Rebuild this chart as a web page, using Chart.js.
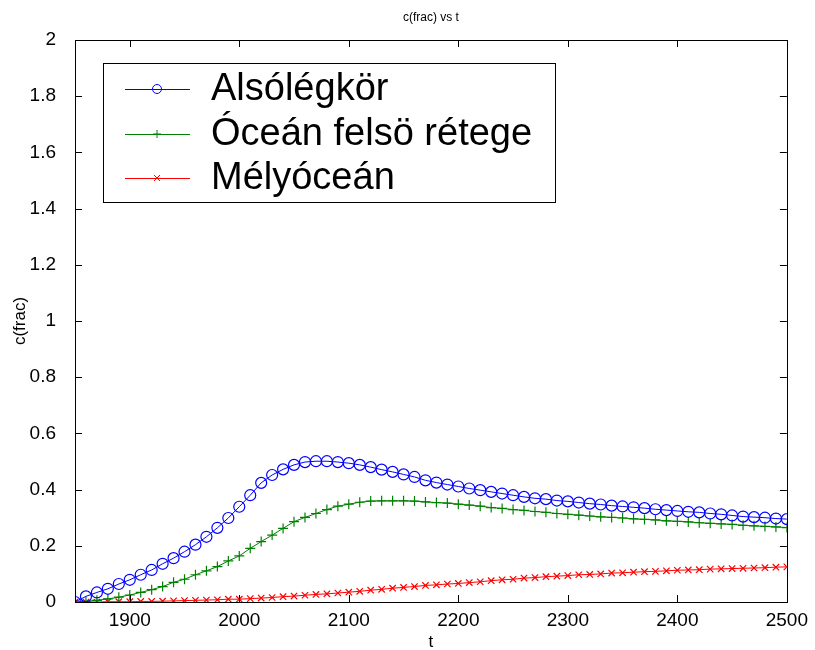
<!DOCTYPE html>
<html>
<head>
<meta charset="utf-8">
<script src="https://cdn.jsdelivr.net/npm/chart.js@4.4.0/dist/chart.umd.min.js"></script>
<style>
  html, body { margin: 0; padding: 0; background: #fff; }
  #wrap { width: 815px; height: 650px; }
</style>
</head>
<body>
<div id="wrap"><canvas id="chart"></canvas></div>
<script>
// years, one sample every 10 years
const years = [];
for (let y = 1850; y <= 2500; y += 10) years.push(y);

const xTicks = [1900, 2000, 2100, 2200, 2300, 2400, 2500];

const atmosphere = [
    0, 0.020, 0.034, 0.047, 0.064, 0.079, 0.097, 0.114, 0.136, 0.156,
    0.179, 0.204, 0.232, 0.264, 0.299, 0.339, 0.380, 0.424, 0.452, 0.472,
    0.488, 0.498, 0.501, 0.501, 0.498, 0.494, 0.488, 0.480, 0.471, 0.463,
    0.454, 0.445, 0.433, 0.425, 0.418, 0.411, 0.404, 0.398, 0.392, 0.386,
    0.380, 0.374, 0.369, 0.366, 0.361, 0.358, 0.354, 0.350, 0.347, 0.343,
    0.340, 0.337, 0.334, 0.330, 0.327, 0.324, 0.321, 0.319, 0.315, 0.312,
    0.308, 0.304, 0.302, 0.300, 0.297, 0.295
];

const upperOcean = [
    0, 0.002, 0.006, 0.011, 0.017, 0.025, 0.034, 0.044, 0.055, 0.070,
    0.081, 0.097, 0.111, 0.126, 0.146, 0.164, 0.191, 0.215, 0.238, 0.262,
    0.286, 0.301, 0.315, 0.329, 0.341, 0.348, 0.355, 0.359, 0.360, 0.360,
    0.360, 0.359, 0.356, 0.354, 0.352, 0.348, 0.345, 0.341, 0.336, 0.333,
    0.329, 0.326, 0.322, 0.319, 0.315, 0.312, 0.309, 0.306, 0.303, 0.301,
    0.299, 0.296, 0.294, 0.292, 0.289, 0.287, 0.285, 0.282, 0.280, 0.278,
    0.276, 0.273, 0.271, 0.269, 0.267, 0.265
];

const deepOcean = [
    0, 0.000, 0.000, 0.001, 0.001, 0.001, 0.002, 0.002, 0.003, 0.004,
    0.005, 0.006, 0.007, 0.008, 0.010, 0.010, 0.012, 0.014, 0.016, 0.019,
    0.021, 0.024, 0.027, 0.029, 0.032, 0.035, 0.038, 0.042, 0.045, 0.049,
    0.052, 0.055, 0.059, 0.061, 0.064, 0.066, 0.069, 0.072, 0.076, 0.079,
    0.081, 0.085, 0.087, 0.090, 0.092, 0.094, 0.097, 0.098, 0.100, 0.103,
    0.104, 0.106, 0.108, 0.109, 0.111, 0.113, 0.114, 0.115, 0.117, 0.118,
    0.119, 0.120, 0.121, 0.122, 0.124, 0.125
];

const FONT = "'Liberation Sans', Arial, Helvetica, sans-serif";

function toXY(ys) {
    return years.map((x, i) => ({x: x, y: ys[i]}));
}

// box with inward ticks, title, axis labels and legend inside the plot
const matlabLook = {
    id: 'matlabLook',
    afterDraw(chart) {
        const ctx = chart.ctx;
        const a = chart.chartArea;
        const xs = chart.scales.x, ys = chart.scales.y;
        ctx.save();
        ctx.strokeStyle = '#000';
        ctx.lineWidth = 1;
        ctx.strokeRect(Math.round(a.left) + 0.5, Math.round(a.top) + 0.5,
            Math.round(a.right - a.left), Math.round(a.bottom - a.top));
        const tl = 7;
        ctx.beginPath();
        xs.ticks.forEach(t => {
            const px = Math.round(xs.getPixelForValue(t.value)) + 0.5;
            ctx.moveTo(px, a.bottom); ctx.lineTo(px, a.bottom - tl);
            ctx.moveTo(px, a.top); ctx.lineTo(px, a.top + tl);
        });
        ys.ticks.forEach(t => {
            const py = Math.round(ys.getPixelForValue(t.value)) + 0.5;
            ctx.moveTo(a.left, py); ctx.lineTo(a.left + tl, py);
            ctx.moveTo(a.right, py); ctx.lineTo(a.right - tl, py);
        });
        ctx.stroke();

        // title and axis labels
        ctx.fillStyle = '#000';
        ctx.textAlign = 'center';
        ctx.textBaseline = 'middle';
        ctx.font = '12px ' + FONT;
        ctx.fillText('c(frac) vs t', (a.left + a.right) / 2, 18);
        ctx.font = '17px ' + FONT;
        ctx.fillText('t', (a.left + a.right) / 2, 642);
        ctx.save();
        ctx.translate(20, (a.top + a.bottom) / 2);
        ctx.rotate(-Math.PI / 2);
        ctx.fillText('c(frac)', 0, 0);
        ctx.restore();

        // legend
        const lx = 103, ly = 63, lw = 452, lh = 139;
        ctx.fillStyle = '#fff';
        ctx.fillRect(lx, ly, lw, lh);
        ctx.strokeStyle = '#000';
        ctx.strokeRect(lx + 0.5, ly + 0.5, lw, lh);
        const rows = [89, 134, 178];
        chart.data.datasets.forEach((ds, i) => {
            const yy = rows[i];
            ctx.strokeStyle = ds.borderColor;
            ctx.lineWidth = 1;
            ctx.beginPath();
            ctx.moveTo(125, yy + 0.5); ctx.lineTo(190, yy + 0.5);
            ctx.stroke();
            ctx.beginPath();
            const cx = 157;
            if (ds.pointStyle === 'circle') {
                ctx.arc(cx, yy, 4.5, 0, Math.PI * 2);
            } else if (ds.pointStyle === 'cross') {
                ctx.moveTo(cx - 4, yy); ctx.lineTo(cx + 4, yy);
                ctx.moveTo(cx, yy - 4); ctx.lineTo(cx, yy + 4);
            } else {
                ctx.moveTo(cx - 3, yy - 3); ctx.lineTo(cx + 3, yy + 3);
                ctx.moveTo(cx - 3, yy + 3); ctx.lineTo(cx + 3, yy - 3);
            }
            ctx.stroke();
            ctx.fillStyle = '#000';
            ctx.textAlign = 'left';
            ctx.font = '38px ' + FONT;
            ctx.fillText(ds.label, 211, yy + 1);
        });
        ctx.restore();
    }
};

new Chart(document.getElementById('chart').getContext('2d'), {
    type: 'line',
    data: {
        datasets: [{
            label: 'Alsólégkör',
            data: toXY(atmosphere),
            borderColor: '#0000ff',
            backgroundColor: 'rgba(0,0,0,0)',
            borderWidth: 1,
            pointStyle: 'circle',
            pointRadius: 5.5,
            pointBorderWidth: 1.2,
            pointBorderColor: '#0000ff',
            pointBackgroundColor: 'rgba(0,0,0,0)'
        }, {
            label: 'Óceán felsö rétege',
            data: toXY(upperOcean),
            borderColor: '#008000',
            borderWidth: 1,
            pointStyle: 'cross',
            pointRadius: 5,
            pointBorderWidth: 1.2,
            pointBorderColor: '#008000'
        }, {
            label: 'Mélyóceán',
            data: toXY(deepOcean),
            borderColor: '#ff0000',
            borderWidth: 1,
            pointStyle: 'crossRot',
            pointRadius: 4.5,
            pointBorderWidth: 1.2,
            pointBorderColor: '#ff0000'
        }]
    },
    options: {
        responsive: true,
        maintainAspectRatio: false,
        animation: false,
        layout: {
            padding: {top: 40, right: 27, left: 0, bottom: 0}
        },
        scales: {
            x: {
                type: 'linear',
                min: 1850,
                max: 2500,
                afterBuildTicks: (scale) => {
                    scale.ticks = xTicks.map(v => ({value: v}));
                },
                afterFit: (scale) => { scale.height = 48; },
                grid: {display: false, drawTicks: false},
                border: {display: false},
                ticks: {
                    color: '#000',
                    font: {family: FONT, size: 19},
                    padding: 7,
                    maxRotation: 0,
                    callback: (v) => String(v)
                }
            },
            y: {
                min: 0,
                max: 2,
                afterFit: (scale) => { scale.width = 75; },
                grid: {display: false, drawTicks: false},
                border: {display: false},
                ticks: {
                    stepSize: 0.2,
                    color: '#000',
                    font: {family: FONT, size: 19},
                    padding: 19,
                    callback: (v) => String(Math.round(v * 10) / 10)
                }
            }
        },
        plugins: {
            legend: {display: false},
            title: {display: false},
            tooltip: {enabled: false}
        },
        elements: {
            line: {tension: 0}
        }
    },
    plugins: [matlabLook]
});
</script>
</body>
</html>
